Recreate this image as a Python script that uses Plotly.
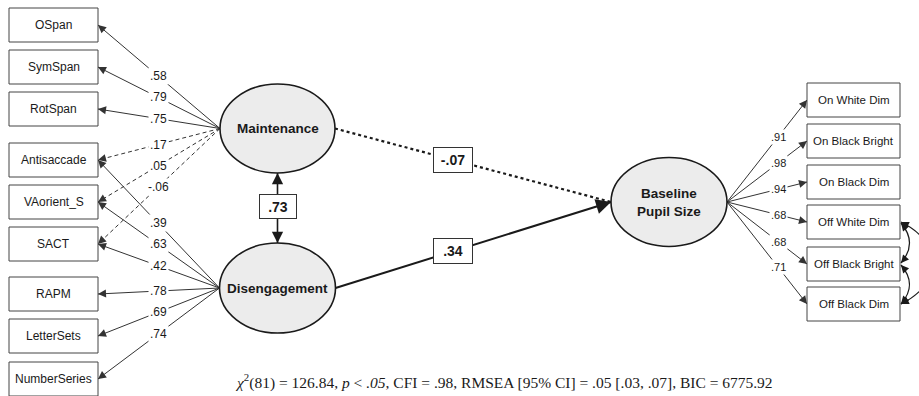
import math
import plotly.graph_objects as go

# ---------------- model estimates ----------------
wm_tasks = ["OSpan", "SymSpan", "RotSpan"]
att_tasks = ["Antisaccade", "VAorient_S", "SACT"]
gf_tasks = ["RAPM", "LetterSets", "NumberSeries"]

# loadings of Maintenance on OSpan..SACT
maintenance_loadings = [0.58, 0.79, 0.75, 0.17, 0.05, -0.06]
# loadings of Disengagement on Antisaccade..NumberSeries
disengagement_loadings = [0.39, 0.63, 0.42, 0.78, 0.69, 0.74]

pupil_tasks = ["On White Dim", "On Black Bright", "On Black Dim",
               "Off White Dim", "Off Black Bright", "Off Black Dim"]
pupil_loadings = [0.91, 0.98, 0.94, 0.68, 0.68, 0.71]

factor_correlation = 0.73
path_maintenance_pupil = -0.07
path_disengagement_pupil = 0.34

fit_text = ("<i>χ</i><sup>2</sup>(81) = 126.84, <i>p</i> &lt; <i>.05</i>, CFI = .98, "
            "RMSEA [95% CI] = .05 [.03, .07], BIC = 6775.92")

# ---------------- layout geometry ----------------
W, H = 919, 396
BOX_H = 34
LEFT_X0, LEFT_X1 = 9, 98
left_tops = [8, 50, 92, 143, 185, 227, 277, 319, 362]
RIGHT_X0, RIGHT_X1 = 807, 900
right_tops = [83, 124, 165, 205, 247, 287]

maint = dict(cx=277.5, cy=128.5, rx=57.5, ry=44.5)
diseng = dict(cx=277.5, cy=288.0, rx=58.0, ry=45.0)
pupil = dict(cx=669.0, cy=202.0, rx=58.0, ry=44.5)

INK = "#1a1a1a"
THIN = "#333333"
SANS = "Liberation Sans, Arial, sans-serif"


def fmt(v):
    return f"{v:.2f}".replace("0.", ".", 1)


fig = go.Figure()


def line(p, q, width=1.0, color=THIN, dash="solid"):
    fig.add_trace(go.Scatter(x=[p[0], q[0]], y=[p[1], q[1]], mode="lines",
                             line=dict(color=color, width=width, dash=dash),
                             hoverinfo="skip", showlegend=False))


def head(tip, frm, width=1.0, size=1.6, color=THIN, back=9):
    dx, dy = frm[0] - tip[0], frm[1] - tip[1]
    n = math.hypot(dx, dy)
    fig.add_annotation(x=tip[0], y=tip[1], ax=tip[0] + dx / n * back,
                       ay=tip[1] + dy / n * back, xref="x", yref="y",
                       axref="x", ayref="y", text="", showarrow=True,
                       arrowhead=2, arrowsize=size, arrowwidth=width,
                       arrowcolor=color, standoff=0)


def label_on(p, q, x, text, size=12):
    t = (x - p[0]) / (q[0] - p[0])
    y = p[1] + t * (q[1] - p[1])
    fig.add_annotation(x=x, y=y, text=text, showarrow=False,
                       font=dict(family=SANS, size=size, color=INK),
                       bgcolor="white", borderpad=1)


def box(x0, x1, top, text, size=12):
    fig.add_shape(type="rect", x0=x0, x1=x1, y0=top, y1=top + BOX_H,
                  line=dict(color="#444444", width=1), fillcolor="white")
    fig.add_annotation(x=(x0 + x1) / 2, y=top + BOX_H / 2, text=text,
                       showarrow=False,
                       font=dict(family=SANS, size=size, color=INK))


def ellipse(e, text):
    fig.add_shape(type="circle", x0=e["cx"] - e["rx"], x1=e["cx"] + e["rx"],
                  y0=e["cy"] - e["ry"], y1=e["cy"] + e["ry"],
                  line=dict(color=INK, width=1.6), fillcolor="#ececec")
    fig.add_annotation(x=e["cx"], y=e["cy"], text=text, showarrow=False,
                       font=dict(family=SANS, size=13.5, color=INK))


def value_box(x, p, q, text):
    t = (x - p[0]) / (q[0] - p[0])
    y = p[1] + t * (q[1] - p[1])
    fig.add_annotation(x=x, y=y, text=f"<b>{text}</b>", showarrow=False,
                       font=dict(family=SANS, size=14, color=INK),
                       bgcolor="white", bordercolor="#333333", borderwidth=1,
                       width=32, height=18, borderpad=3)


# ---------------- left measurement model ----------------
left_names = wm_tasks + att_tasks + gf_tasks
left_mid = [(LEFT_X1, t + BOX_H / 2) for t in left_tops]

m_src = (maint["cx"] - maint["rx"], maint["cy"])
d_src = (diseng["cx"] - diseng["rx"], diseng["cy"])

for i, v in enumerate(maintenance_loadings):
    tgt = left_mid[i]
    dash = "solid" if i < len(wm_tasks) else "4px,3px"
    line(m_src, tgt, dash=dash)
    head(tgt, m_src)
    label_on(m_src, tgt, 158, fmt(v))

for j, v in enumerate(disengagement_loadings):
    tgt = left_mid[len(wm_tasks) + j]
    line(d_src, tgt)
    head(tgt, d_src)
    label_on(d_src, tgt, 158, fmt(v))

for name, top in zip(left_names, left_tops):
    box(LEFT_X0, LEFT_X1, top, name)

# ---------------- structural paths ----------------
m_out = (maint["cx"] + maint["rx"], maint["cy"])
d_out = (diseng["cx"] + diseng["rx"], diseng["cy"])
p_in = (pupil["cx"] - pupil["rx"], pupil["cy"])

line(m_out, p_in, width=2.2, color=INK, dash="dot")
line(d_out, p_in, width=2, color=INK)
head(p_in, d_out, width=2, size=1.5, color=INK, back=14)
value_box(453, m_out, p_in, fmt(path_maintenance_pupil))
value_box(453, d_out, p_in, fmt(path_disengagement_pupil))

# factor correlation
c_top = (maint["cx"], maint["cy"] + maint["ry"])
c_bot = (diseng["cx"], diseng["cy"] - diseng["ry"])
line(c_top, c_bot, width=1.6, color=INK)
head(c_top, c_bot, width=1.6, size=1.4, color=INK, back=10)
head(c_bot, c_top, width=1.6, size=1.4, color=INK, back=10)
fig.add_annotation(x=maint["cx"], y=(c_top[1] + c_bot[1]) / 2 - 2,
                   text=f"<b>{fmt(factor_correlation)}</b>", showarrow=False,
                   font=dict(family=SANS, size=14, color=INK),
                   bgcolor="white", bordercolor="#333333", borderwidth=1,
                   width=30, height=17, borderpad=3)

ellipse(maint, "<b>Maintenance</b>")
ellipse(diseng, "<b>Disengagement</b>")
ellipse(pupil, "<b>Baseline<br>Pupil Size</b>")

# ---------------- right measurement model ----------------
p_src = (pupil["cx"] + pupil["rx"], pupil["cy"])
right_mid = [(RIGHT_X0, t + BOX_H / 2) for t in right_tops]
for k, v in enumerate(pupil_loadings):
    tgt = right_mid[k]
    line(p_src, tgt)
    head(tgt, p_src)
    label_on(p_src, tgt, 778, fmt(v), size=11)

for name, top in zip(pupil_tasks, right_tops):
    box(RIGHT_X0, RIGHT_X1, top, name, size=11.5)

# residual covariances among the "Off" conditions
ex = RIGHT_X1 + 1


def arc(y0, y1, bulge):
    ym = (y0 + y1) / 2
    if bulge < 40:
        c = (ex + bulge, ym)
        fig.add_shape(type="path", path=f"M {ex} {y0} Q {c[0]} {c[1]} {ex} {y1}",
                      line=dict(color=INK, width=1.2))
        head((ex, y0), c, width=1.2, size=1.3, color=INK, back=7)
        head((ex, y1), c, width=1.2, size=1.3, color=INK, back=7)
    else:
        c0 = (ex + bulge, y0 + (y1 - y0) * 0.25)
        c1 = (ex + bulge, y0 + (y1 - y0) * 0.75)
        fig.add_shape(type="path",
                      path=f"M {ex} {y0} C {c0[0]} {c0[1]} {c1[0]} {c1[1]} {ex} {y1}",
                      line=dict(color=INK, width=1.2))
        head((ex, y0), c0, width=1.2, size=1.3, color=INK, back=7)
        head((ex, y1), c1, width=1.2, size=1.3, color=INK, back=7)


off_mid = [t + BOX_H / 2 for t in right_tops[3:]]
arc(off_mid[0] + 1, off_mid[1] - 1, 17)
arc(off_mid[1] + 1, off_mid[2], 17)
arc(off_mid[0], off_mid[2], 42)

# ---------------- fit statistics ----------------
fig.add_annotation(x=504, y=381, text=fit_text, showarrow=False,
                   font=dict(family="Liberation Serif, Times New Roman, serif",
                             size=15.5, color=INK))

fig.update_xaxes(range=[0, W], visible=False, fixedrange=True)
fig.update_yaxes(range=[H, 0], visible=False, fixedrange=True)
fig.update_layout(width=W, height=H, margin=dict(l=0, r=0, t=0, b=0),
                  plot_bgcolor="white", paper_bgcolor="white",
                  showlegend=False)

fig.write_html("out.html")
